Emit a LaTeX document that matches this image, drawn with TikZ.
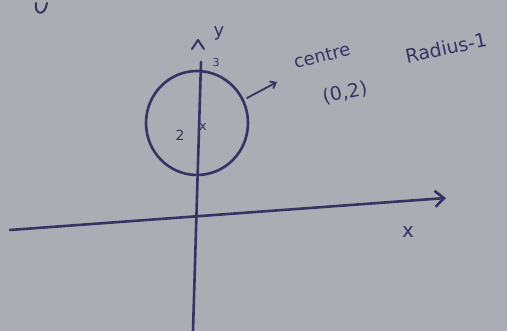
\documentclass[tikz,border=0pt]{standalone}
\usetikzlibrary{arrows.meta}
\usepackage{fontspec}
\setmainfont{DejaVu Sans}
\definecolor{paper}{RGB}{170,174,180}
\definecolor{ink}{RGB}{56,50,100}
\begin{document}
\begin{tikzpicture}[x=1pt,y=-1pt,
  inkline/.style={draw=ink,line width=2.6pt,line cap=round,line join=round},
  barb/.style={-{Straight Barb[length=9pt,width=16pt,line width=2.6pt]}},
  lbl/.style={text=ink,inner sep=0pt,font=\fontsize{17}{17}\selectfont}]
\fill[paper] (0,0) rectangle (507,331);
\useasboundingbox (0,0) rectangle (507,331);
% axes
\coordinate (xl) at (10,230);
\coordinate (xr) at (446,198);
\coordinate (yb) at (193,331);
\coordinate (yt) at (201,62);
\draw[inkline,barb] (xl) -- (xr);
\draw[inkline] (yb) -- (yt);
\coordinate (caretc) at (198,40);
\draw[inkline,line width=2pt] ([shift={(-6,9)}]caretc) -- (caretc) -- ([shift={(6,9)}]caretc);
\node[lbl,font=\fontsize{18}{18}\selectfont] (ylab) at (219,33) {y};
\node[lbl,font=\fontsize{20}{20}\selectfont] (xlab) at (408,232) {x};
% circle
\coordinate (c) at (197,123);
\draw[inkline] (c) ellipse [x radius=51, y radius=52];
\node[lbl,font=\fontsize{13}{13}\selectfont] (cm) at (203,127) {x};
\node[lbl,font=\fontsize{14}{14}\selectfont] (two) at (180,135) {2};
\node[lbl,font=\fontsize{11}{11}\selectfont] (three) at (216,62) {3};
% annotation
\coordinate (as) at (247,98);
\coordinate (ae) at (277,82);
\draw[inkline,line width=1.8pt,-{Straight Barb[length=5pt,width=8pt]}] (as) -- (ae);
\node[lbl,rotate=14,font=\fontsize{18}{18}\selectfont] (centre) at (322,56) {centre};
\node[lbl,rotate=12,font=\fontsize{19}{19}\selectfont] (pt) at (345,93) {(0,2)};
\node[lbl,rotate=12,font=\fontsize{19}{19}\selectfont] (rad) at (446,48) {Radius-1};
% scribble top-left
\draw[inkline,line width=2pt] (36,3) .. controls (34,15) and (45,17) .. (47,3);
\end{tikzpicture}
\end{document}
